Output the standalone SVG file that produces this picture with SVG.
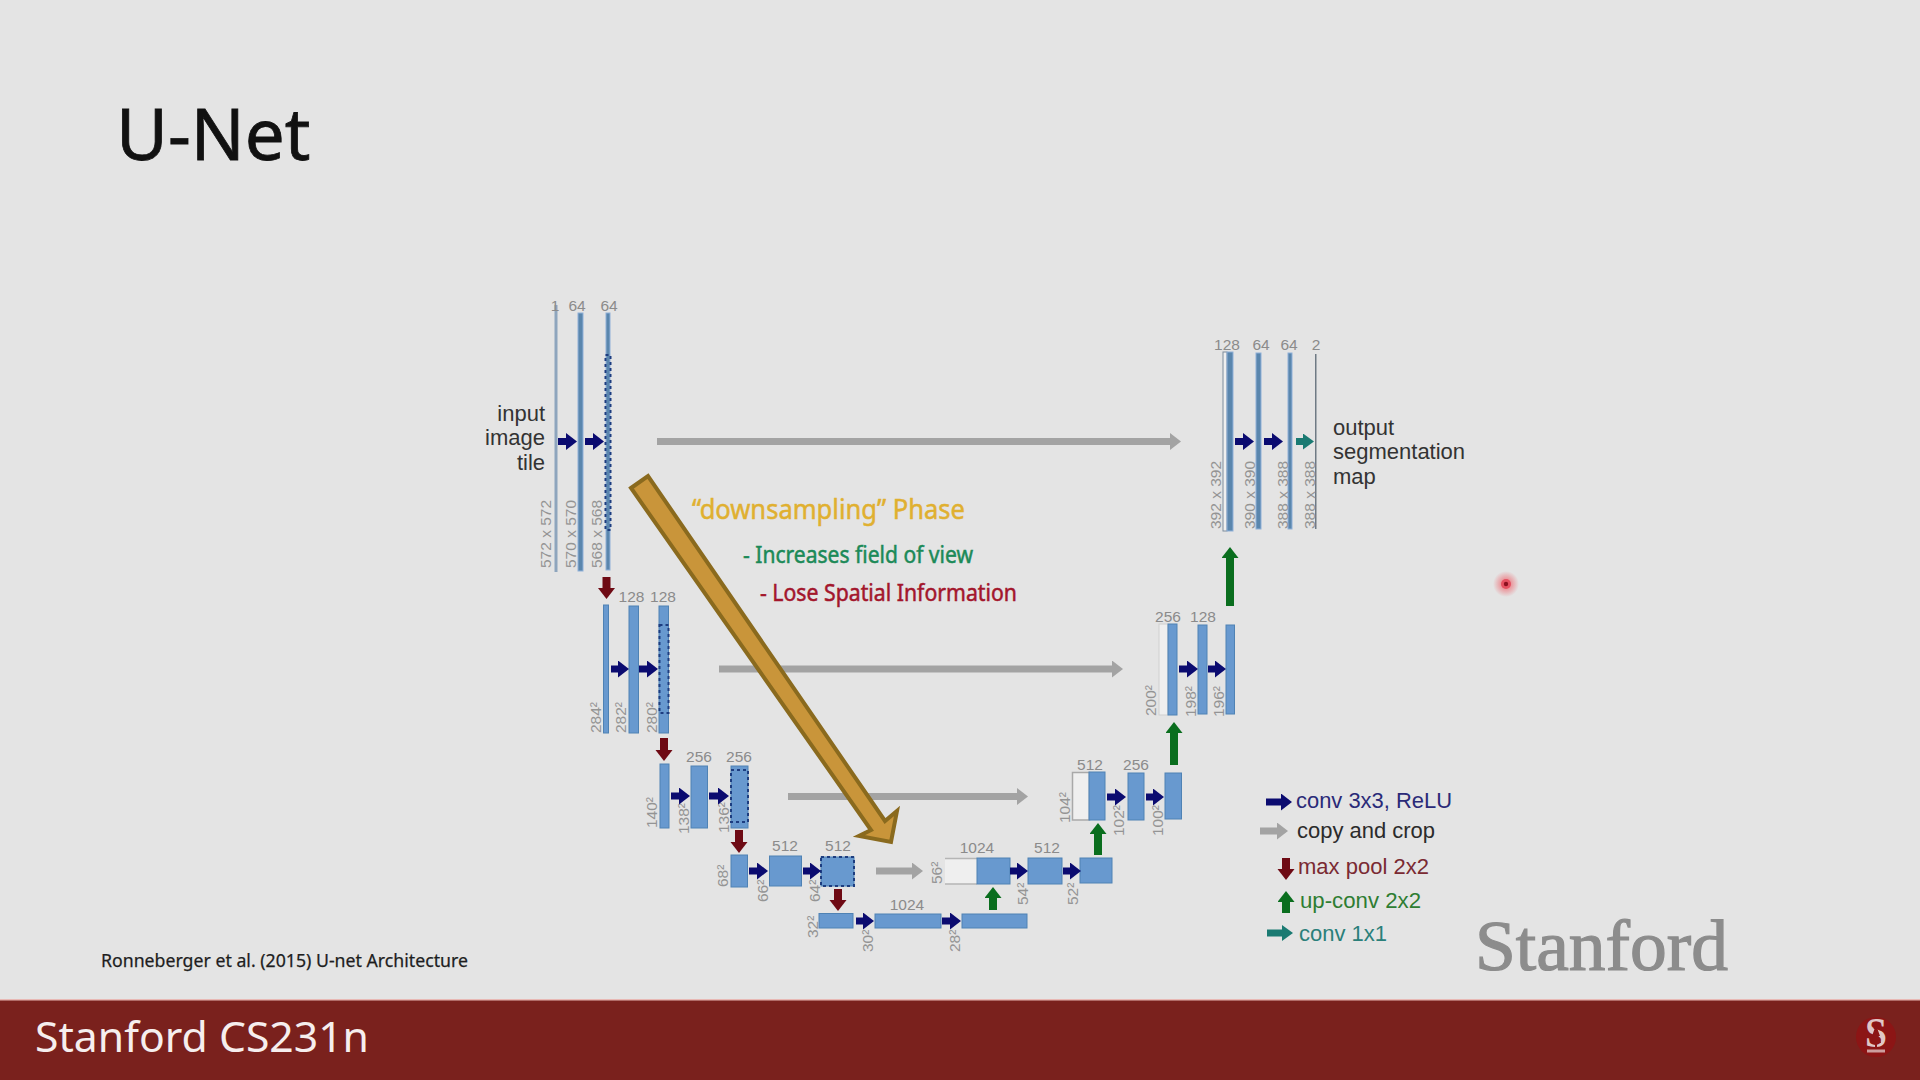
<svg xmlns="http://www.w3.org/2000/svg" width="1920" height="1080" viewBox="0 0 1920 1080">
<style>
.sans{font-family:"Noto Sans","Open Sans",sans-serif}
.ds{font-family:"Liberation Sans",Arial,sans-serif}
.n{font-family:"Liberation Sans",Arial,sans-serif;font-size:15.5px;fill:#8b8b8b;text-anchor:middle}
.r{font-family:"Liberation Sans",Arial,sans-serif;font-size:15.5px;fill:#949494}
.t{font-family:"Liberation Sans",Arial,sans-serif;font-size:22px;fill:#333}
.e{text-anchor:end}
.b{fill:#6899cf;stroke:#4f82b4;stroke-width:1}
.bn{fill:#5a86ad;stroke:#8fb0d8;stroke-width:1}
.w{fill:#efefef;stroke:#a9a9a9;stroke-width:1.5}
.d{fill:none;stroke:#1d3d80;stroke-width:2;stroke-dasharray:3 3}
.conv{stroke:#0b0b70;stroke-width:7;marker-end:url(#hConv)}
.gray{stroke:#a3a3a3;stroke-width:7;marker-end:url(#hGray)}
.pool{stroke:#6e0a14;stroke-width:8;marker-end:url(#hPool)}
.up{stroke:#0a6e1e;stroke-width:8;marker-end:url(#hUp)}
.c11{stroke:#1a7a72;stroke-width:7;marker-end:url(#hC11)}
</style>
<defs>
<marker id="hConv" markerUnits="userSpaceOnUse" markerWidth="12" markerHeight="18" refX="0" refY="8.500" orient="auto"><path d="M0 0L11 8.500L0 17Z" fill="#0b0b70"/></marker>
<marker id="hGray" markerUnits="userSpaceOnUse" markerWidth="12" markerHeight="18" refX="0" refY="8.500" orient="auto"><path d="M0 0L11 8.500L0 17Z" fill="#a3a3a3"/></marker>
<marker id="hPool" markerUnits="userSpaceOnUse" markerWidth="12" markerHeight="18" refX="0" refY="8.500" orient="auto"><path d="M0 0L11 8.500L0 17Z" fill="#6e0a14"/></marker>
<marker id="hUp" markerUnits="userSpaceOnUse" markerWidth="12" markerHeight="18" refX="0" refY="8.500" orient="auto"><path d="M0 0L11 8.500L0 17Z" fill="#0a6e1e"/></marker>
<marker id="hC11" markerUnits="userSpaceOnUse" markerWidth="12" markerHeight="18" refX="0" refY="8" orient="auto"><path d="M0 0L11 8L0 16Z" fill="#1a7a72"/></marker>
<radialGradient id="glow"><stop offset="0.3" stop-color="#f0525c" stop-opacity="0.6"/><stop offset="1" stop-color="#f0525c" stop-opacity="0"/></radialGradient>
</defs>
<rect id="background" width="1920" height="1080" fill="#e4e4e4"/>
<text id="title" class="sans" x="116" y="160" font-size="71" fill="#111" stroke="#111" stroke-width="0.8">U-Net</text>

<g id="col-1-1"><rect x="554.5" y="305" width="3" height="267" fill="#8ea5bd"/><text class="n" x="555" y="311">1</text><text class="r" transform="translate(550.5 568) rotate(-90)">572 x 572</text></g>
<g id="col-1-2"><rect class="bn" x="578" y="313" width="5" height="258"/><text class="n" x="577" y="311">64</text><text class="r" transform="translate(575.500 568) rotate(-90)">570 x 570</text></g>
<g id="col-1-3"><rect class="bn" x="606" y="313" width="4" height="257"/><rect class="d" x="605.5" y="355" width="5" height="175"/><text class="n" x="609" y="311">64</text><text class="r" transform="translate(601.500 568) rotate(-90)">568 x 568</text></g>
<g id="label-input"><text class="t e" x="545" y="421">input</text><text class="t e" x="545" y="445">image</text><text class="t e" x="545" y="470">tile</text></g>

<g id="col-2-1"><rect class="b" x="603.5" y="605" width="5" height="128"/><text class="r" transform="translate(601 733) rotate(-90)">284²</text></g>
<g id="col-2-2"><rect class="b" x="629" y="606" width="9.5" height="127"/><text class="n" x="631.5" y="602">128</text><text class="r" transform="translate(626 733) rotate(-90)">282²</text></g>
<g id="col-2-3"><rect class="b" x="659" y="606" width="9.5" height="127"/><rect class="d" x="659.5" y="625" width="9" height="88"/><text class="n" x="663" y="602">128</text><text class="r" transform="translate(657 733) rotate(-90)">280²</text></g>

<g id="col-3-1"><rect class="b" x="660" y="764" width="9" height="64"/><text class="r" transform="translate(657 828) rotate(-90)">140²</text></g>
<g id="col-3-2"><rect class="b" x="691" y="766" width="16.5" height="62"/><text class="n" x="699" y="762">256</text><text class="r" transform="translate(689 834) rotate(-90)">138²</text></g>
<g id="col-3-3"><rect class="b" x="731" y="766" width="17" height="62"/><rect class="d" x="731" y="770" width="17" height="52"/><text class="n" x="739" y="762">256</text><text class="r" transform="translate(729 833) rotate(-90)">136²</text></g>

<g id="col-4-1"><rect class="b" x="731" y="855" width="16.5" height="32"/><text class="r" transform="translate(728 887) rotate(-90)">68²</text></g>
<g id="col-4-2"><rect class="b" x="769.5" y="856" width="32" height="30"/><text class="n" x="785" y="851">512</text><text class="r" transform="translate(768 902) rotate(-90)">66²</text></g>
<g id="col-4-3"><rect class="b" x="821" y="857" width="33" height="29"/><rect class="d" x="821" y="857" width="33" height="29"/><text class="n" x="838" y="851">512</text><text class="r" transform="translate(820 902) rotate(-90)">64²</text></g>

<g id="col-5-1"><rect class="b" x="819" y="913.5" width="34" height="14.5"/><text class="r" transform="translate(818 938) rotate(-90)">32²</text></g>
<g id="col-5-2"><rect class="b" x="875" y="914" width="66" height="14"/><text class="n" x="907" y="910">1024</text><text class="r" transform="translate(873 952) rotate(-90)">30²</text></g>
<g id="col-5-3"><rect class="b" x="962" y="914" width="65" height="14"/><text class="r" transform="translate(960 952) rotate(-90)">28²</text></g>

<g id="col-6-1"><rect x="945" y="859" width="32" height="25" fill="#efefef"/><path d="M977 858.5H945M945 884H977" fill="none" stroke="#b5b5b5" stroke-width="1.5"/><rect class="b" x="977" y="858" width="33" height="26"/><text class="n" x="977" y="853">1024</text><text class="r" transform="translate(942 884) rotate(-90)">56²</text></g>
<g id="col-6-2"><rect class="b" x="1028" y="858" width="34" height="26"/><text class="n" x="1047" y="853">512</text><text class="r" transform="translate(1028 905) rotate(-90)">54²</text></g>
<g id="col-6-3"><rect class="b" x="1080" y="858" width="32" height="25"/><text class="r" transform="translate(1078 905) rotate(-90)">52²</text></g>

<g id="col-7-1"><rect class="w" x="1072.5" y="772.5" width="17" height="47.5"/><rect class="b" x="1089" y="772" width="16" height="48"/><text class="n" x="1090" y="770">512</text><text class="r" transform="translate(1070 823) rotate(-90)">104²</text></g>
<g id="col-7-2"><rect class="b" x="1128" y="773" width="16" height="47"/><text class="n" x="1136" y="770">256</text><text class="r" transform="translate(1124 836) rotate(-90)">102²</text></g>
<g id="col-7-3"><rect class="b" x="1165" y="773" width="16.5" height="46"/><text class="r" transform="translate(1163 836) rotate(-90)">100²</text></g>

<g id="col-8-1"><rect x="1159" y="624" width="9" height="91" fill="#efefef" stroke="#cfcfcf" stroke-width="1"/><rect class="b" x="1168" y="624" width="9" height="91"/><text class="n" x="1168" y="622">256</text><text class="r" transform="translate(1156 716) rotate(-90)">200²</text></g>
<g id="col-8-2"><rect class="b" x="1198" y="625" width="9" height="89"/><text class="n" x="1203" y="622">128</text><text class="r" transform="translate(1196 717) rotate(-90)">198²</text></g>
<g id="col-8-3"><rect class="b" x="1226" y="625" width="8.5" height="89"/><text class="r" transform="translate(1224 717) rotate(-90)">196²</text></g>

<g id="col-9-1"><rect x="1223" y="352" width="4" height="179" fill="#efefef" stroke="#7d8c9c" stroke-width="1"/><rect class="bn" x="1227" y="352" width="6" height="179"/><text class="n" x="1227" y="350">128</text><text class="r" transform="translate(1221 529) rotate(-90)">392 x 392</text></g>
<g id="col-9-2"><rect class="bn" x="1256" y="353" width="5" height="176"/><text class="n" x="1261" y="350">64</text><text class="r" transform="translate(1254.500 529) rotate(-90)">390 x 390</text></g>
<g id="col-9-3"><rect class="bn" x="1288" y="353" width="4" height="176"/><text class="n" x="1289" y="350">64</text><text class="r" transform="translate(1288 529) rotate(-90)">388 x 388</text></g>
<g id="col-9-4"><rect x="1315" y="354" width="1.500" height="175" fill="#6f7a84"/><text class="n" x="1316" y="350">2</text><text class="r" transform="translate(1315 529) rotate(-90)">388 x 388</text></g>
<g id="label-output"><text class="t" x="1333" y="435">output</text><text class="t" x="1333" y="459">segmentation</text><text class="t" x="1333" y="484">map</text></g>

<g id="connectors">
<line class="conv" x1="558" y1="441.500" x2="566" y2="441.500"/><line class="conv" x1="585" y1="441.500" x2="593" y2="441.500"/>
<line class="conv" x1="611" y1="669" x2="618" y2="669"/><line class="conv" x1="639" y1="669" x2="647" y2="669"/>
<line class="conv" x1="671" y1="796" x2="679" y2="796"/><line class="conv" x1="709" y1="796" x2="718" y2="796"/>
<line class="conv" x1="749" y1="871" x2="757" y2="871"/><line class="conv" x1="803" y1="871" x2="810" y2="871"/>
<line class="conv" x1="856" y1="921" x2="863" y2="921"/><line class="conv" x1="942" y1="921" x2="950" y2="921"/>
<line class="conv" x1="1010" y1="871" x2="1017" y2="871"/><line class="conv" x1="1063" y1="871" x2="1070" y2="871"/>
<line class="conv" x1="1107" y1="797" x2="1115" y2="797"/><line class="conv" x1="1146" y1="797" x2="1153" y2="797"/>
<line class="conv" x1="1179" y1="669" x2="1187" y2="669"/><line class="conv" x1="1208" y1="669" x2="1215" y2="669"/>
<line class="conv" x1="1235" y1="441.500" x2="1243" y2="441.500"/><line class="conv" x1="1264" y1="441.500" x2="1272" y2="441.500"/>
<line class="c11" x1="1296" y1="441.500" x2="1303" y2="441.500"/>
<line class="gray" x1="657" y1="441.500" x2="1170" y2="441.500"/>
<line class="gray" x1="719" y1="669" x2="1112" y2="669"/>
<line class="gray" x1="788" y1="796.500" x2="1017" y2="796.500"/>
<line class="gray" x1="876" y1="871" x2="912" y2="871"/>
<line class="pool" x1="606.500" y1="577" x2="606.500" y2="588"/>
<line class="pool" x1="664" y1="738" x2="664" y2="750"/>
<line class="pool" x1="739" y1="830" x2="739" y2="842"/>
<line class="pool" x1="838" y1="889" x2="838" y2="900"/>
<line class="up" x1="993" y1="910" x2="993" y2="898"/>
<line class="up" x1="1098" y1="855" x2="1098" y2="834"/>
<line class="up" x1="1174" y1="765" x2="1174" y2="733"/>
<line class="up" x1="1230" y1="606" x2="1230" y2="558"/>
</g>

<g id="big-arrow"><path d="M631 488L648 476L885 821L897 811L891 842L859 836L871 830Z" fill="#c9953a" stroke="#8a6a1e" stroke-width="4" stroke-linejoin="miter"/></g>
<g id="annotations" class="sans" stroke-width="0.5">
<text x="692" y="519" font-size="27" fill="#e0b030" stroke="#e0b030" textLength="273" lengthAdjust="spacingAndGlyphs">“downsampling” Phase</text>
<text x="743" y="563" font-size="23" fill="#1c8a58" stroke="#1c8a58" textLength="230" lengthAdjust="spacingAndGlyphs">- Increases field of view</text>
<text x="760" y="601" font-size="23" fill="#a3162c" stroke="#a3162c" textLength="257" lengthAdjust="spacingAndGlyphs">- Lose Spatial Information</text>
</g>

<g id="legend">
<line class="conv" x1="1266" y1="802" x2="1281" y2="802"/><text class="ds" x="1296" y="808" font-size="22.500" fill="#2a2a78" textLength="156" lengthAdjust="spacingAndGlyphs">conv 3x3, ReLU</text>
<line class="gray" x1="1260" y1="831" x2="1277" y2="831"/><text class="ds" x="1297" y="838" font-size="22.500" fill="#2b2b2b" textLength="138" lengthAdjust="spacingAndGlyphs">copy and crop</text>
<line class="pool" x1="1286" y1="858" x2="1286" y2="869"/><text class="ds" x="1298" y="874" font-size="22.500" fill="#7a2a32" textLength="131" lengthAdjust="spacingAndGlyphs">max pool 2x2</text>
<line class="up" x1="1286" y1="913" x2="1286" y2="902"/><text class="ds" x="1300" y="908" font-size="22.500" fill="#2e7d32" textLength="121" lengthAdjust="spacingAndGlyphs">up-conv 2x2</text>
<line class="c11" x1="1267" y1="933" x2="1282" y2="933"/><text class="ds" x="1299" y="941" font-size="22.500" fill="#2a7f7a" textLength="88" lengthAdjust="spacingAndGlyphs">conv 1x1</text>
</g>

<text id="stanford-word" x="1475" y="970" font-family="'Liberation Serif',serif" font-size="71" fill="#8c8c8c" stroke="#8c8c8c" stroke-width="1.2" textLength="253" lengthAdjust="spacingAndGlyphs">Stanford</text>
<text id="citation" class="sans" x="101" y="967" font-size="18" fill="#1e1e1e" stroke="#1e1e1e" stroke-width="0.25" textLength="367" lengthAdjust="spacingAndGlyphs">Ronneberger et al. (2015) U-net Architecture</text>

<g id="pointer"><circle cx="1506" cy="584" r="13" fill="url(#glow)"/><circle cx="1506" cy="584" r="5" fill="#e55060"/><circle cx="1506" cy="584" r="2.200" fill="#8c1020"/></g>

<g id="footer"><rect y="1000" width="1920" height="80" fill="#7a211d"/><rect y="999" width="1920" height="1.500" fill="#e8b8b4"/>
<text class="sans" x="35" y="1052" font-size="42" fill="#f6eeee" textLength="334" lengthAdjust="spacingAndGlyphs">Stanford CS231n</text>
<circle cx="1876" cy="1037" r="20" fill="#8c1515"/>
<text x="1876" y="1047" font-family="'Liberation Serif',serif" font-weight="bold" font-size="42" fill="#e0c6c6" text-anchor="middle" textLength="22" lengthAdjust="spacingAndGlyphs">S</text>
<path d="M1876 1022L1878.500 1029L1877.500 1029L1880 1036L1878.500 1036L1881 1043H1877V1047H1875V1043H1871L1873.500 1036L1872 1036L1874.500 1029L1873.500 1029Z" fill="#8c1515"/>
<rect x="1867" y="1049.500" width="18" height="3" fill="#dcc0c0" opacity="0.8"/>
</g>
</svg>
